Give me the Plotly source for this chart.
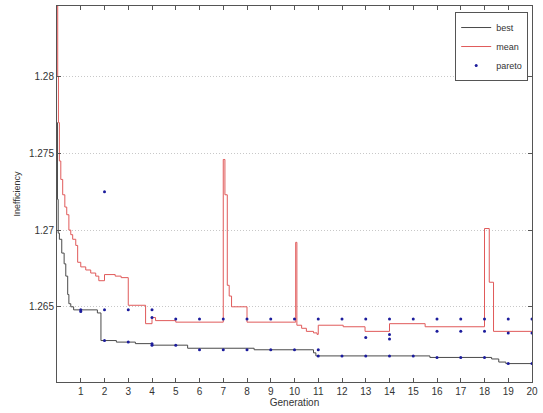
import plotly.graph_objects as go

# ---- data ----
best_gen = [0, 0.02, 0.05, 0.1, 0.2, 0.3, 0.37, 0.45, 0.5, 0.58, 0.7, 1.7, 1.85, 2.5, 3.3, 4.0,
            5.5, 8.3, 10.8, 10.9, 15.7, 18.3, 18.6, 18.9, 20]
best_val = [1.2770, 1.2720, 1.2698, 1.2694, 1.2685, 1.2678, 1.2670, 1.2658, 1.2652, 1.2650, 1.2648,
            1.2646, 1.2628, 1.2627, 1.2626, 1.2625, 1.2623, 1.2622, 1.2620, 1.2618, 1.2617,
            1.2616, 1.2614, 1.2613, 1.2613]

mean_gen = [0, 0.03, 0.06, 0.1, 0.16, 0.24, 0.33, 0.41, 0.5, 0.58, 0.66, 0.79, 0.87, 1.0, 1.21,
            1.42, 1.63, 1.76, 2.0, 2.45, 2.7, 3.0, 3.73, 4.0, 4.15, 5.0,
            7.0, 7.07, 7.17, 7.25, 7.35, 8.0,
            10.05, 10.1, 10.3, 10.5, 10.8, 10.95, 11.0, 12.05, 12.97, 14.0, 15.5,
            18.0, 18.2, 18.38, 20]
mean_val = [1.2846, 1.2800, 1.2770, 1.2745, 1.2733, 1.2723, 1.2715, 1.2710, 1.2700, 1.2697, 1.2694,
            1.2690, 1.2679, 1.2676, 1.2674, 1.2672, 1.2670, 1.2667, 1.2671, 1.2670, 1.2669,
            1.2651, 1.2639, 1.2643, 1.2641, 1.2640,
            1.2746, 1.2723, 1.2664, 1.2657, 1.2650, 1.2640,
            1.2692, 1.2638, 1.2636, 1.2634, 1.2633, 1.2632, 1.2638, 1.2637, 1.2634, 1.2639, 1.2637,
            1.2701, 1.2666, 1.2634, 1.2634]

pareto_gen = [1, 1, 2, 2, 2, 3, 3, 4, 4, 4, 4, 5, 5, 6, 6, 7, 7, 8, 8, 9, 9, 10, 10,
              11, 11, 11, 12, 12, 13, 13, 13, 14, 14, 14, 14, 15, 15, 16, 16, 16,
              17, 17, 17, 18, 18, 18, 19, 19, 19, 20, 20, 20]
pareto_val = [1.2648, 1.2647, 1.2648, 1.2725, 1.2628, 1.2648, 1.2627, 1.2648, 1.2643, 1.2626, 1.2625,
              1.2642, 1.2625, 1.2642, 1.2622, 1.2642, 1.2622, 1.2642, 1.2622, 1.2642, 1.2622,
              1.2642, 1.2622, 1.2642, 1.2622, 1.2618, 1.2642, 1.2618, 1.2642, 1.2630, 1.2618,
              1.2642, 1.2632, 1.2629, 1.2618, 1.2642, 1.2618, 1.2642, 1.2634, 1.2617,
              1.2642, 1.2634, 1.2617, 1.2642, 1.2634, 1.2617, 1.2642, 1.2633, 1.2613,
              1.2642, 1.2633, 1.2613]

x_ticks = list(range(1, 21))
y_ticks = [1.265, 1.27, 1.275, 1.28]
y_tick_text = ["1.265", "1.27", "1.275", "1.28"]

fig = go.Figure()
fig.add_trace(go.Scatter(x=best_gen, y=best_val, mode="lines", name="best",
                         line=dict(color="#4a4a4a", width=1, shape="hv")))
fig.add_trace(go.Scatter(x=mean_gen, y=mean_val, mode="lines", name="mean",
                         line=dict(color="#e05a5a", width=1, shape="hv")))
fig.add_trace(go.Scatter(x=pareto_gen, y=pareto_val, mode="markers", name="pareto",
                         marker=dict(color="#1c1c9c", size=3)))

axis_common = dict(showline=True, linecolor="#555555", linewidth=1, mirror="allticks",
                   ticks="inside", ticklen=4, tickcolor="#555555", zeroline=False,
                   tickfont=dict(family="Liberation Sans, Arial", size=10, color="#333333"))

fig.update_xaxes(range=[0, 20], tickvals=x_ticks, showgrid=False,
                 title=dict(text="Generation", standoff=2,
                            font=dict(family="Liberation Sans, Arial", size=10, color="#333333")),
                 **axis_common)
fig.update_yaxes(range=[1.2601, 1.2846], tickvals=y_ticks, ticktext=y_tick_text,
                 showgrid=True, gridcolor="#c8c8c8", griddash="1px,2px", gridwidth=1,
                 title=dict(text="Inefficiency", standoff=6,
                            font=dict(family="Liberation Sans, Arial", size=9, color="#333333")),
                 **axis_common)

fig.update_layout(
    width=543, height=413,
    margin=dict(l=57, r=11, t=6, b=31),
    paper_bgcolor="white", plot_bgcolor="white",
    showlegend=True,
    legend=dict(x=0.992, y=0.984, xanchor="right", yanchor="top",
                bgcolor="white", bordercolor="#555555", borderwidth=1,
                font=dict(family="Liberation Sans, Arial", size=9, color="#333333"),
                tracegroupgap=0, itemwidth=30),
)

fig.write_html("out.html")
